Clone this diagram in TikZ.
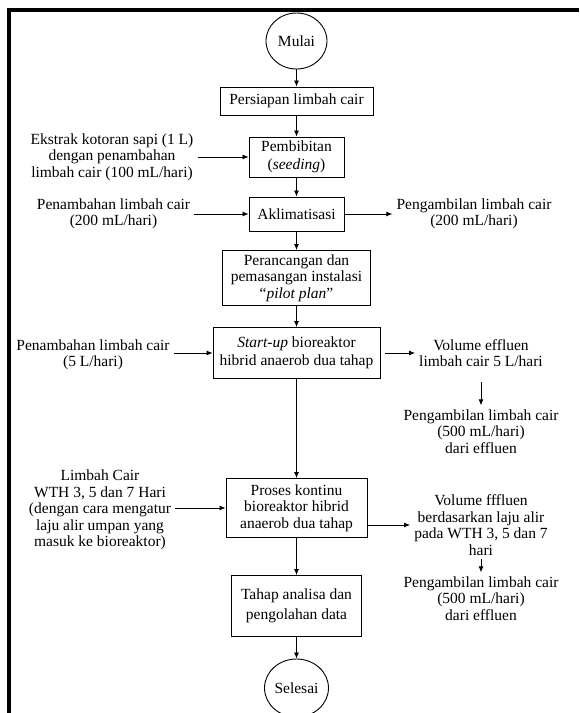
\documentclass[tikz,border=0pt]{standalone}
\usepackage{fontspec}
\setmainfont{Liberation Serif}
\usetikzlibrary{shapes.geometric,arrows.meta}

\begin{document}
\begin{tikzpicture}[x=1pt,y=-1pt,
  >={Latex[length=6pt,width=5pt]},
  font=\fontsize{15.5}{16.5}\selectfont,
  box/.style={draw, line width=0.9pt, align=center, inner sep=2pt},
  term/.style={draw, ellipse, line width=0.9pt, inner sep=0pt},
  note/.style={align=center, inner sep=4pt},
  flow/.style={->, line width=0.8pt}]
\useasboundingbox (0,0) rectangle (579,713);
\draw[line width=4pt] (9,713) -- (9,10) -- (579,10);

\node[term, minimum width=61, minimum height=56] (mulai) at (296.5,41) {Mulai};
\node[box, minimum width=153, minimum height=28] (persiapan) at (296.5,101) {Persiapan limbah cair};
\node[box, minimum width=95, minimum height=40] (pembibitan) at (296.5,157) {Pembibitan\\[1.5pt](\textit{seeding})};
\node[box, minimum width=95, minimum height=34] (aklimatisasi) at (296.5,214) {Aklimatisasi};
\node[box, minimum width=148, minimum height=55] (perancangan) at (296.5,278) {Perancangan dan\\pemasangan instalasi\\“\textit{pilot plan}”};
\node[box, minimum width=167, minimum height=51] (startup) at (296.5,353) {\textit{Start-up} bioreaktor\\[1pt]hibrid anaerob dua tahap};
\node[box, minimum width=141, minimum height=59] (proses) at (296.5,508) {Proses kontinu\\bioreaktor hibrid\\anaerob dua tahap};
\node[box, minimum width=130, minimum height=61] (tahap) at (296.5,606) {Tahap analisa dan\\[3pt]pengolahan data};
\node[term, minimum width=64, minimum height=58] (selesai) at (296.5,688) {Selesai};

\node[note] (ekstrak) at (112,157) {Ekstrak kotoran sapi (1 L)\\dengan penambahan\\limbah cair (100 mL/hari)};
\node[note] (tambahA) at (113.5,214) {Penambahan limbah cair\\(200 mL/hari)};
\node[note] (ambilA) at (474,214) {Pengambilan limbah cair\\(200 mL/hari)};
\node[note] (tambahB) at (93,355) {Penambahan limbah cair\\(5 L/hari)};
\node[note] (volumeA) at (481,353) {Volume effluen\\limbah cair 5 L/hari};
\node[note] (ambilB) at (481,431.5) {Pengambilan limbah cair\\(500 mL/hari)\\dari effluen};
\node[note] (limbah) at (100,510) {Limbah Cair\\WTH 3, 5 dan 7 Hari\\(dengan cara mengatur\\laju alir umpan yang\\masuk ke bioreaktor)};
\node[note] (volumeB) at (481,525) {Volume fffluen\\berdasarkan laju alir\\pada WTH 3, 5 dan 7\\hari};
\node[note] (ambilC) at (481,598.5) {Pengambilan limbah cair\\(500 mL/hari)\\dari effluen};

\draw[flow] (mulai) -- (persiapan);
\draw[flow] (persiapan) -- (pembibitan);
\draw[flow] (pembibitan) -- (aklimatisasi);
\draw[flow] (aklimatisasi) -- (perancangan);
\draw[flow] (perancangan) -- (startup);
\draw[flow] (startup) -- (proses);
\draw[flow] (proses) -- (tahap);
\draw[flow] (tahap) -- (selesai);

\draw[flow] (ekstrak) -- (pembibitan);
\draw[flow] (tambahA) -- (aklimatisasi);
\draw[flow] (aklimatisasi) -- (ambilA);
\draw[flow] (tambahB.east |- startup) -- (startup);
\draw[flow, shorten <=5pt] (startup) -- (volumeA.west |- startup);
\draw[flow, shorten <=11pt] (volumeA) -- (ambilB);
\draw[flow] (limbah.east |- proses) -- (proses);
\draw[flow] (proses.east |- volumeB) -- (volumeB);
\draw[flow] (volumeB) -- (ambilC);
\end{tikzpicture}
\end{document}
